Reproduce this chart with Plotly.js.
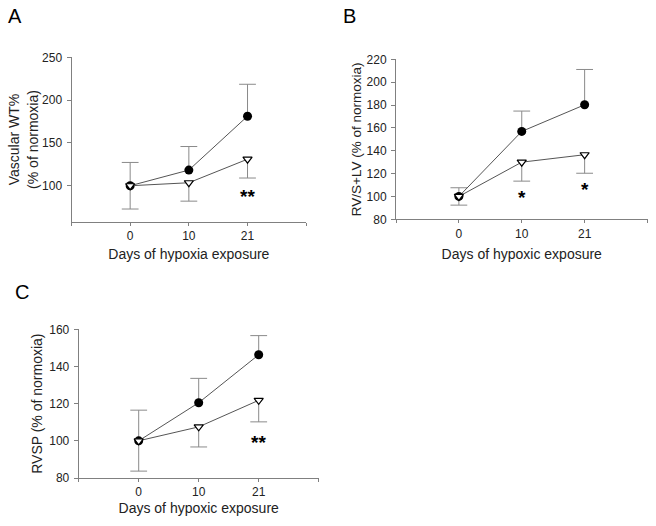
<!DOCTYPE html>
<html><head><meta charset="utf-8">
<script src="https://cdn.plot.ly/plotly-3.0.1.min.js"></script>
<style>html,body{margin:0;padding:0;background:#fff}#chart{width:656px;height:526px}</style>
</head><body><div id="chart"></div>
<script>
// ---- data ----
const days = ['0', '10', '21'];
const tickPos = [-1, 0, 1, 2, 3];
const tickText = ['', '0', '10', '21', ''];

// Panel A: Vascular WT% (% of normoxia)
const wtHypoxia = [100, 118.3, 181.2];
const wtHypoxiaErr = [27.2, 27.5, 37.3];
const wtTreated = [100, 103.5, 131];
const wtTreatedErr = [27.2, 21.5, 22];
const wtSig = ['', '', '**'];
const wtSigY = [0, 0, 87];

// Panel B: RV/S+LV (% of normoxia)
const rvHypoxia = [100, 156.9, 180.2];
const rvHypoxiaErr = [7.6, 17.8, 30.9];
const rvTreated = [100, 130, 136.5];
const rvTreatedErr = [7.6, 16.6, 16.2];
const rvSig = ['', '*', '*'];
const rvSigY = [0, 99.5, 106];

// Panel C: RVSP (% of normoxia)
const spHypoxia = [100, 120.5, 146.3];
const spHypoxiaErr = [16.5, 13.1, 10.3];
const spTreated = [100, 107.5, 121.8];
const spTreatedErr = [16.3, 10.8, 11.6];
const spSig = ['', '', '**'];
const spSigY = [0, 0, 99];

// ---- styling ----
const FONT = 'Liberation Sans, Arial, sans-serif';
const AXIS_GRAY = '#808080';
const ERR_GRAY = '#8a8a8a';
const LINE_GRAY = '#555555';
const TEXT = '#222222';

function panel(xa, ya, hyp, hypErr, trt, trtErr) {
  const zeros = hyp.map(() => 0);
  const common = {x: days, xaxis: xa, yaxis: ya, showlegend: false, hoverinfo: 'skip'};
  return [
    // error bar stems
    Object.assign({}, common, {y: hyp, mode: 'none',
      error_y: {type: 'data', symmetric: false, array: hypErr, arrayminus: zeros,
                color: ERR_GRAY, thickness: 1, width: 0}}),
    Object.assign({}, common, {y: trt, mode: 'none',
      error_y: {type: 'data', symmetric: false, array: zeros, arrayminus: trtErr,
                color: ERR_GRAY, thickness: 1, width: 0}}),
    // error bar caps
    Object.assign({}, common, {y: hyp.map((v, i) => v + hypErr[i]), mode: 'markers',
      marker: {symbol: 'line-ew', size: 12, line: {width: 1, color: ERR_GRAY}}}),
    Object.assign({}, common, {y: trt.map((v, i) => v - trtErr[i]), mode: 'markers',
      marker: {symbol: 'line-ew', size: 12, line: {width: 1, color: ERR_GRAY}}}),
    // hypoxia series (filled circles)
    Object.assign({}, common, {y: hyp, mode: 'lines+markers',
      line: {color: LINE_GRAY, width: 1},
      marker: {symbol: 'circle', size: 9, color: '#000000'}}),
    // treated series (open triangles)
    Object.assign({}, common, {y: trt, mode: 'lines+markers',
      line: {color: LINE_GRAY, width: 1},
      marker: {symbol: 'triangle-down', size: 8, color: '#ffffff', line: {color: '#000000', width: 1.2}}})
  ];
}

const data = [].concat(
  panel('x', 'y', wtHypoxia, wtHypoxiaErr, wtTreated, wtTreatedErr),
  panel('x2', 'y2', rvHypoxia, rvHypoxiaErr, rvTreated, rvTreatedErr),
  panel('x3', 'y3', spHypoxia, spHypoxiaErr, spTreated, spTreatedErr)
);

const W = 656, H = 526;
function xd(a, b) { return [a / W, b / W]; }
function yd(bottom, top) { return [1 - bottom / H, 1 - top / H]; }

function xAxis(dom, anchor, title, standoff) {
  return {
    domain: dom, anchor: anchor, type: 'category', range: [-1, 3],
    tickmode: 'array', tickvals: tickPos, ticktext: tickText,
    showline: true, linecolor: AXIS_GRAY, linewidth: 1,
    ticks: 'outside', ticklen: 3, tickcolor: AXIS_GRAY, tickwidth: 1,
    showgrid: false, zeroline: false,
    tickfont: {family: FONT, size: 12, color: TEXT},
    title: {text: title, font: {family: FONT, size: 14, color: TEXT}, standoff: standoff},
    automargin: false, fixedrange: true
  };
}
function yAxis(dom, anchor, range, dtick, title, size, standoff) {
  return {
    domain: dom, anchor: anchor, range: range, dtick: dtick, tick0: 0,
    showline: true, linecolor: AXIS_GRAY, linewidth: 1,
    ticks: 'outside', ticklen: 4, tickcolor: AXIS_GRAY, tickwidth: 1,
    ticklabelstandoff: 2,
    showgrid: false, zeroline: false,
    tickfont: {family: FONT, size: 12, color: TEXT},
    title: {text: title, font: {family: FONT, size: size, color: TEXT}, standoff: standoff},
    automargin: false, fixedrange: true
  };
}

function sigAnnotations(sig, sigY, xr, yr) {
  const out = [];
  sig.forEach((s, i) => {
    if (!s) return;
    out.push({x: i, y: sigY[i], xref: xr, yref: yr, text: s, showarrow: false,
      xanchor: 'center', yanchor: 'middle',
      font: {family: FONT, size: 19, color: '#000', weight: 'bold'}});
  });
  return out;
}
function letter(t, px, py) {
  return {x: px / W, y: 1 - py / H, xref: 'paper', yref: 'paper', text: t, showarrow: false,
    xanchor: 'center', yanchor: 'middle', font: {family: FONT, size: 20, color: '#000'}};
}

const layout = {
  width: W, height: H,
  margin: {l: 0, r: 0, t: 0, b: 0},
  paper_bgcolor: '#ffffff', plot_bgcolor: '#ffffff',
  font: {family: FONT, color: TEXT},
  showlegend: false,
  xaxis: xAxis(xd(71.5, 306.2), 'y', 'Days of hypoxia exposure', 7),
  yaxis: yAxis(yd(221.7, 57.3), 'x', [58, 250], 50, 'Vascular WT%<br>(% of normoxia)', 14, 0),
  xaxis2: xAxis(xd(396, 647.5), 'y2', 'Days of hypoxic exposure', 9),
  yaxis2: yAxis(yd(219.3, 59.3), 'x2', [80, 220], 20, 'RV/S+LV (% of normoxia)', 13.5, 1),
  xaxis3: xAxis(xd(78.7, 318.7), 'y3', 'Days of hypoxic exposure', 4),
  yaxis3: yAxis(yd(478, 329.3), 'x3', [80, 160], 20, 'RVSP (% of normoxia)', 14, 3),
  annotations: [].concat(
    sigAnnotations(wtSig, wtSigY, 'x', 'y'),
    sigAnnotations(rvSig, rvSigY, 'x2', 'y2'),
    sigAnnotations(spSig, spSigY, 'x3', 'y3'),
    [letter('A', 15, 16), letter('B', 349, 16), letter('C', 22, 292)]
  )
};

Plotly.newPlot('chart', data, layout, {displayModeBar: false, staticPlot: true});
</script>
</body></html>
